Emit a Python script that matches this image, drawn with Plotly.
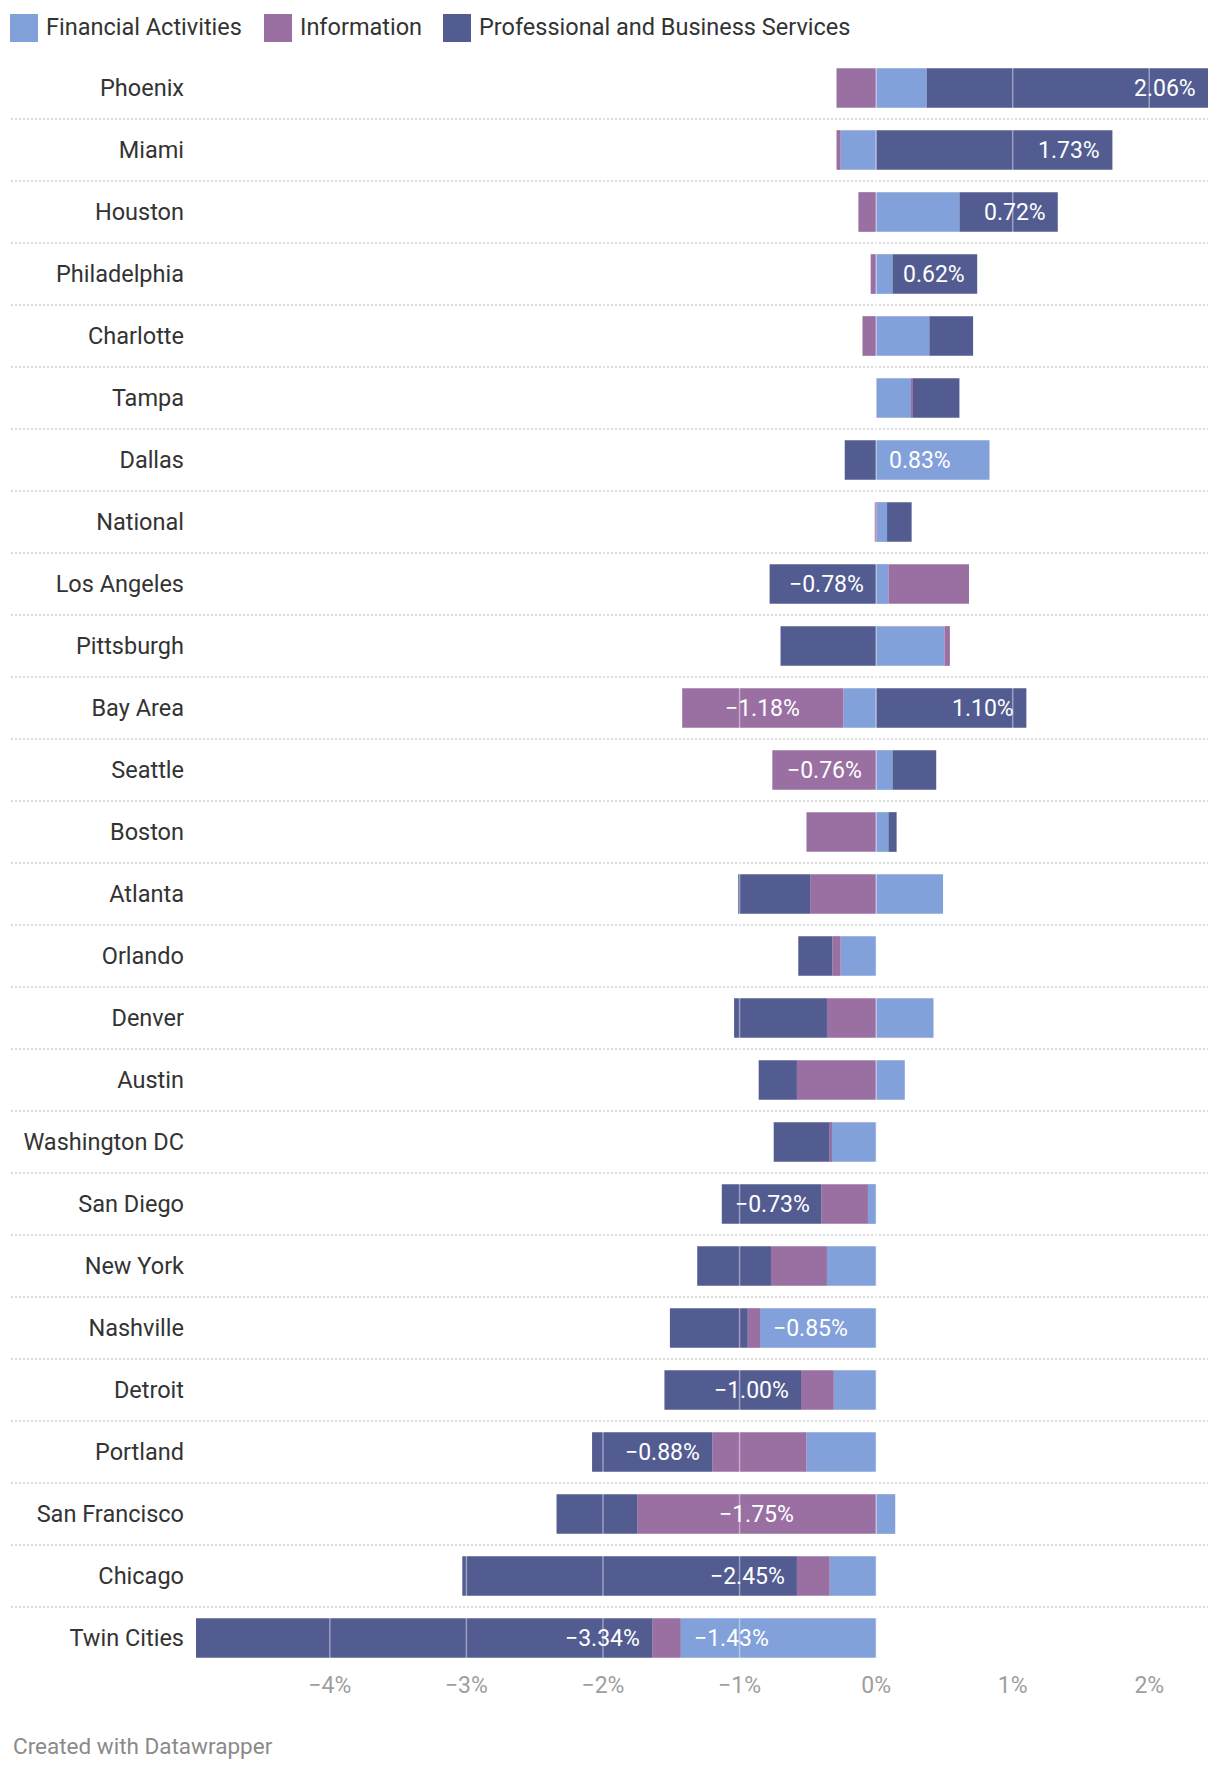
import plotly.graph_objects as go

# ---------------- data ----------------
cities = ["Phoenix", "Miami", "Houston", "Philadelphia", "Charlotte", "Tampa", "Dallas",
          "National", "Los Angeles", "Pittsburgh", "Bay Area", "Seattle", "Boston", "Atlanta",
          "Orlando", "Denver", "Austin", "Washington DC", "San Diego", "New York", "Nashville",
          "Detroit", "Portland", "San Francisco", "Chicago", "Twin Cities"]

financial = [0.37, -0.26, 0.61, 0.12, 0.39, 0.26, 0.83, 0.08, 0.09, 0.50, -0.24, 0.12, 0.09,
             0.49, -0.26, 0.42, 0.21, -0.33, -0.06, -0.36, -0.85, -0.31, -0.51, 0.14, -0.34, -1.43]
information = [-0.29, -0.03, -0.13, -0.04, -0.10, 0.01, 0.00, -0.01, 0.59, 0.04, -1.18, -0.76, -0.51,
               -0.48, -0.06, -0.36, -0.58, -0.01, -0.34, -0.41, -0.09, -0.24, -0.69, -1.75, -0.24, -0.21]
professional = [2.06, 1.73, 0.72, 0.62, 0.32, 0.34, -0.23, 0.18, -0.78, -0.70, 1.10, 0.32, 0.06,
                -0.53, -0.25, -0.68, -0.28, -0.41, -0.73, -0.54, -0.57, -1.00, -0.88, -0.59, -2.45, -3.34]

series_names = ["Financial Activities", "Information", "Professional and Business Services"]
series_values = [financial, information, professional]
series_colors = ["#82A0DA", "#9A70A3", "#525C91"]

tick_values = [-4, -3, -2, -1, 0, 1, 2]

# which segments carry a value label
labeled_cities = [
    ["Dallas", "Nashville", "Twin Cities"],
    ["Bay Area", "Seattle", "San Francisco"],
    ["Phoenix", "Miami", "Houston", "Philadelphia", "Los Angeles", "Bay Area", "San Diego",
     "Detroit", "Portland", "Chicago", "Twin Cities"],
]
label_align = ["left", "center", "right"]

# ---------------- layout geometry ----------------
W, H = 1220, 1772
ML, MR, MT, MB = 196, 12, 57, 103
PW = W - ML - MR
PH = H - MT - MB
FONT = "Roboto, 'Noto Sans', sans-serif"


def px2paper_x(px):
    return (px - ML) / PW


def py2paper_y(py):
    return 1 - (py - MT) / PH


def fmt(v):
    s = f"{v:.2f}%"
    return s.replace("-", "\u2212")


n = len(cities)

# stacked extents (relative stacking, same as plotly barmode="relative")
pos_base = [0.0] * n
neg_base = [0.0] * n
extents = []
for vals in series_values:
    ext = []
    for i, v in enumerate(vals):
        if v >= 0:
            s = pos_base[i]
            e = s + v
            pos_base[i] = e
        else:
            s = neg_base[i]
            e = s + v
            neg_base[i] = e
        ext.append((min(s, e), max(s, e)))
    extents.append(ext)
xmin = min(neg_base)
xmax = max(pos_base)

fig = go.Figure()
for name, vals, col in zip(series_names, series_values, series_colors):
    fig.add_trace(go.Bar(
        y=cities, x=vals, orientation="h", name=name,
        marker=dict(color=col, line=dict(width=0)),
        showlegend=False,
        hovertemplate="%{y}: %{x:.2f}%<extra>" + name + "</extra>",
    ))

annotations = []
# value labels
for k, name in enumerate(series_names):
    for i, city in enumerate(cities):
        if city not in labeled_cities[k]:
            continue
        lo, hi = extents[k][i]
        al = label_align[k]
        if al == "left":
            x, xanchor, xshift = lo, "left", 11
        elif al == "right":
            x, xanchor, xshift = hi, "right", -10
        else:
            x, xanchor, xshift = (lo + hi) / 2, "center", 0
        annotations.append(dict(
            x=x, y=city, xref="x", yref="y", text=fmt(series_values[k][i]),
            showarrow=False, xanchor=xanchor, yanchor="middle", xshift=xshift,
            font=dict(family=FONT, size=23, color="white"),
        ))

shapes = []
# gridlines drawn over the bars
for t in tick_values:
    shapes.append(dict(type="line", xref="x", yref="paper", x0=t, x1=t, y0=0, y1=1,
                       layer="above", line=dict(color="rgba(255,255,255,0.42)", width=1.5)))
# dotted row separators
for i in range(n - 1):
    shapes.append(dict(type="line", xref="paper", yref="y", x0=px2paper_x(11), x1=1,
                       y0=i + 0.5, y1=i + 0.5, layer="below",
                       line=dict(color="#cfcfcf", width=1.5, dash="2px,2px")))

# custom legend (big square swatches)
legend_square_x = [10, 264, 443]
legend_text_x = [44, 298, 477]
for name, col, sx, tx in zip(series_names, series_colors, legend_square_x, legend_text_x):
    shapes.append(dict(type="rect", xref="paper", yref="paper",
                       x0=px2paper_x(sx), x1=px2paper_x(sx + 28),
                       y0=py2paper_y(42), y1=py2paper_y(14),
                       fillcolor=col, line=dict(width=0), layer="above"))
    annotations.append(dict(x=px2paper_x(tx), y=py2paper_y(27), xref="paper", yref="paper",
                            text=name, showarrow=False, xanchor="left", yanchor="middle",
                            font=dict(family=FONT, size=23.5, color="#333333")))

# footer
annotations.append(dict(x=px2paper_x(11), y=py2paper_y(1746), xref="paper", yref="paper",
                        text="Created with Datawrapper", showarrow=False,
                        xanchor="left", yanchor="middle",
                        font=dict(family=FONT, size=22.5, color="#8a8a8a")))

fig.update_layout(
    width=W, height=H,
    margin=dict(l=ML, r=MR, t=MT, b=MB, pad=0),
    barmode="relative", bargap=0.36,
    plot_bgcolor="white", paper_bgcolor="white",
    font=dict(family=FONT, size=23, color="#333333"),
    shapes=shapes, annotations=annotations,
    showlegend=False,
    xaxis=dict(range=[xmin, xmax], tickvals=tick_values,
               ticktext=[fmt(t).replace(".00", "") for t in tick_values],
               showgrid=False, zeroline=False, showline=False, ticks="",
               tickfont=dict(family=FONT, size=23, color="#9e9e9e"),
               ticklabelstandoff=0, fixedrange=True),
    yaxis=dict(categoryorder="array", categoryarray=cities, range=[n - 0.5, -0.5],
               showgrid=False, zeroline=False, showline=False, ticks="",
               tickfont=dict(family=FONT, size=23.5, color="#333333"),
               ticklabelstandoff=11, fixedrange=True),
)

fig.write_html("out.html")
